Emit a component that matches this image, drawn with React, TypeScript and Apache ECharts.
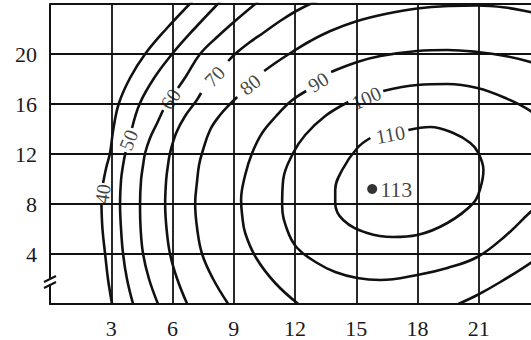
import React, { useEffect, useRef } from "react";
import * as echarts from "echarts";

// axis ticks shown as labels
const xTicks = [3, 6, 9, 12, 15, 18, 21];
const yTicks = [4, 8, 12, 16, 20];

// contour lines: each is a list of pieces (gaps where labels sit)
const contour40 = [
  [[3.04, 0], [2.84, 2.0], [2.7, 4.0], [2.57, 6.0], [2.52, 7.92]],
  [[2.6, 9.68], [2.75, 10.88], [2.94, 12.08], [3.11, 14.08], [3.38, 16.08], [3.92, 18.08], [4.66, 20.0], [5.69, 22.0], [6.96, 24.2]],
];
const contour50 = [
  [[4.07, 0], [3.77, 2.0], [3.58, 4.0], [3.48, 6.0], [3.43, 8.0], [3.48, 9.92], [3.58, 11.12], [3.7, 12.16]],
  [[4.02, 14.08], [4.41, 16.08], [5.1, 18.08], [5.98, 20.0], [7.06, 22.0], [8.33, 24.2]],
];
const contour60 = [
  [[5.29, 0], [4.85, 2.0], [4.56, 4.0], [4.44, 6.0], [4.41, 8.0], [4.46, 9.92], [4.56, 11.12], [4.66, 12.08], [4.9, 13.28], [5.25, 14.48], [5.54, 15.52]],
  [[6.27, 17.28], [6.67, 18.24], [7.35, 20.0], [8.24, 21.44], [9.12, 22.72], [10.2, 24.2]],
];
const contour70 = [
  [[6.72, 0], [6.23, 2.0], [5.88, 4.0], [5.71, 6.0], [5.64, 8.0], [5.69, 9.92], [5.78, 11.12], [5.88, 12.08], [6.18, 13.68], [6.62, 15.04], [7.16, 16.24], [7.4, 16.88]],
  [[8.73, 19.44], [9.12, 20.08], [9.8, 20.96], [10.44, 21.68], [11.27, 22.64], [12.06, 23.44], [12.84, 24.08], [13.24, 24.32]],
];
const contour80 = [
  [[8.73, 0], [7.99, 2.0], [7.45, 4.0], [7.21, 6.0], [7.11, 8.0], [7.21, 9.92], [7.3, 11.12], [7.45, 12.08], [7.84, 13.92], [8.33, 15.12], [8.82, 16.0], [9.17, 16.56]],
  [[10.49, 18.64], [11.18, 19.44], [11.86, 20.16], [12.75, 21.04], [13.73, 21.84], [15.05, 22.64], [16.42, 23.2], [17.99, 23.64], [19.61, 23.84], [20.93, 23.88], [22.3, 23.72], [23.53, 23.36], [24.41, 23.04]],
];
const contour90 = [
  [[13.77, 18.56], [15.05, 19.36], [16.18, 19.84], [17.99, 20.24], [19.46, 20.32], [20.93, 20.16], [22.3, 19.84], [23.53, 19.36], [24.51, 18.8]],
  [[12.55, 17.04], [11.81, 16.24], [11.08, 15.04], [10.39, 13.68], [9.9, 12.08], [9.56, 10.32], [9.36, 8.32], [9.41, 7.12], [9.56, 5.68], [10.1, 3.68], [11.03, 1.68], [12.16, 0]],
  [[24.51, 4.48], [23.53, 3.28], [22.06, 1.76], [20.93, 0.72], [20.0, 0]],
];
const contour100 = [
  [[16.32, 17.04], [17.99, 17.52], [19.46, 17.6], [20.93, 17.28], [22.3, 16.48], [23.53, 15.44], [24.61, 13.92], [25.0, 11.36], [24.51, 8.72], [23.53, 7.36], [22.3, 5.44], [20.93, 3.76], [19.46, 2.88], [17.99, 2.32], [16.18, 1.92], [15.05, 2.08], [13.97, 2.56], [13.09, 3.28], [12.11, 4.48], [11.62, 5.92], [11.37, 7.92], [11.42, 9.92], [11.91, 12.08], [12.5, 13.52], [13.48, 15.04], [14.61, 16.16]],
];
const contour110 = [
  [[17.55, 13.92], [18.63, 14.16], [19.75, 13.68], [20.59, 12.88], [20.98, 12.08], [21.23, 10.72], [21.08, 9.28], [20.74, 8.08], [19.46, 6.48], [17.99, 5.52], [16.81, 5.36], [15.54, 5.68], [14.36, 6.72], [13.97, 8.08], [13.97, 9.12], [14.31, 10.72], [15.05, 12.48], [15.69, 13.28]],
];

// contour labels: text, position, rotation
const labelTexts = ["40", "50", "60", "70", "80", "90", "100", "110"];
const labelX = [2.58, 3.85, 5.9, 8.06, 9.8, 13.14, 15.49, 16.67];
const labelY = [8.8, 13.12, 16.4, 18.2, 17.56, 17.76, 16.48, 13.56];
const labelRot = [82, 68, 58, 46, 38, 32, 24, 10];

// maximum point
const peakPoint = [15.78, 9.2];
const peakLabel = "113";

const allContours = [contour40, contour50, contour60, contour70, contour80, contour90, contour100, contour110];

const FONT = "'Liberation Serif', 'DejaVu Serif', serif";
const INK = "#111";

export default function App() {
  const ref = useRef<HTMLDivElement>(null);
  useEffect(() => {
    document.body.style.margin = "0";
    const chart = echarts.init(ref.current!, null, { renderer: "svg" });
    const lineSeries: any[] = [];
    allContours.forEach((c) =>
      c.forEach((piece) =>
        lineSeries.push({
          type: "line",
          data: piece,
          smooth: 0.4,
          symbol: "none",
          clip: true,
          silent: true,
          lineStyle: { color: INK, width: 2.6 },
          z: 3,
        })
      )
    );
    chart.setOption({
      animation: false,
      backgroundColor: "#fff",
      grid: { left: 50, top: 4, width: 490, height: 300, containLabel: false, outerBoundsMode: "none" },
      xAxis: {
        type: "value",
        min: 0,
        max: 24,
        interval: 3,
        axisLine: { show: true, lineStyle: { color: INK, width: 2 } },
        axisTick: { show: false },
        splitLine: { show: true, lineStyle: { color: INK, width: 1.8 } },
        axisLabel: {
          margin: 13,
          color: "#1a1a1a",
          fontFamily: FONT,
          fontSize: 22,
          formatter: (v: number) => (xTicks.includes(v) ? String(v) : ""),
        },
      },
      yAxis: {
        type: "value",
        min: 0,
        max: 24,
        interval: 4,
        axisLine: { show: true, lineStyle: { color: INK, width: 2 } },
        axisTick: { show: false },
        splitLine: { show: true, lineStyle: { color: INK, width: 1.8 } },
        axisLabel: {
          margin: 13,
          color: "#1a1a1a",
          fontFamily: FONT,
          fontSize: 22,
          formatter: (v: number) => (yTicks.includes(v) ? String(v) : ""),
        },
      },
      series: [
        ...lineSeries,
        {
          type: "scatter",
          symbolSize: 0,
          silent: true,
          z: 5,
          label: { show: true, position: "inside", color: INK, fontFamily: FONT, fontSize: 20 },
          data: labelTexts.map((t, i) => ({
            value: [labelX[i], labelY[i]],
            label: { formatter: t, rotate: labelRot[i] },
          })),
        },
        {
          type: "scatter",
          symbol: "circle",
          symbolSize: 10,
          silent: true,
          z: 6,
          itemStyle: { color: "#000" },
          label: {
            show: true,
            position: "right",
            distance: 3,
            formatter: peakLabel,
            color: INK,
            fontFamily: FONT,
            fontSize: 22,
          },
          data: [peakPoint],
        },
      ],
      graphic: [
        { type: "rect", shape: { x: 46, y: 278, width: 8, height: 6 }, style: { fill: "#fff" }, z: 100 },
        { type: "line", shape: { x1: 44, y1: 282, x2: 56, y2: 276 }, style: { stroke: INK, lineWidth: 2 }, z: 101 },
        { type: "line", shape: { x1: 44, y1: 288, x2: 56, y2: 282 }, style: { stroke: INK, lineWidth: 2 }, z: 101 },
      ],
    });
    return () => chart.dispose();
  }, []);
  return <div ref={ref} style={{ width: 531, height: 340, background: "#fff" }} />;
}
